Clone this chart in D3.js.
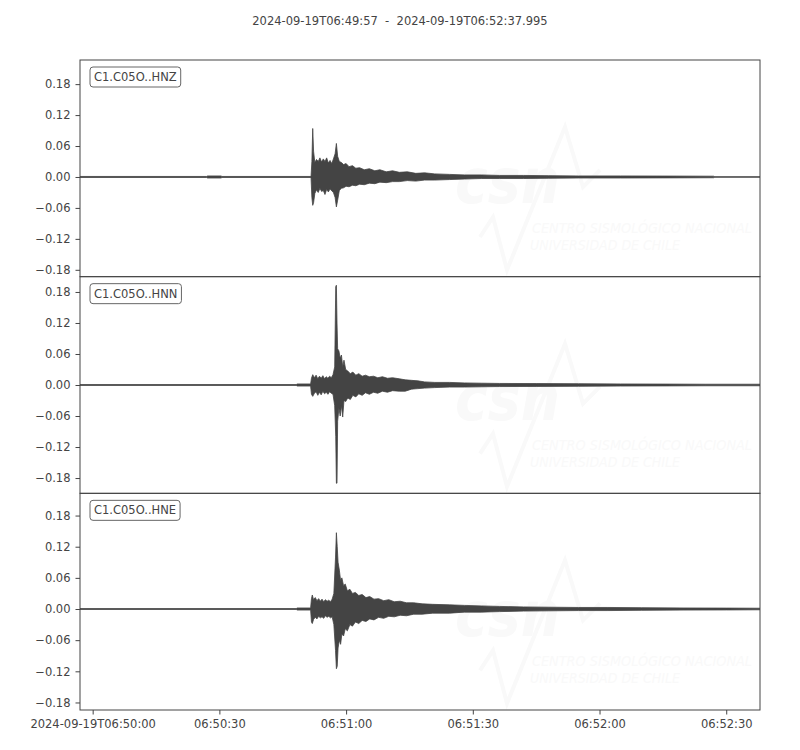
<!DOCTYPE html>
<html>
<head>
<meta charset="utf-8">
<script src="https://cdn.jsdelivr.net/npm/d3@7"></script>
<style>
  body { margin: 0; background: #fff; }
  svg text { font-family: "DejaVu Sans", sans-serif; }
</style>
</head>
<body>
<div id="chart"></div>
<script>
// time window of the stream
const startTime = "2024-09-19T06:49:57.000Z";
const endTime = "2024-09-19T06:52:37.995Z";
const titleText = "2024-09-19T06:49:57  -  2024-09-19T06:52:37.995";

// channel ids, one per panel
const channels = ["C1.C05O..HNZ", "C1.C05O..HNN", "C1.C05O..HNE"];

// y limits per panel
const yLimits = [[-0.1933, 0.2268], [-0.2096, 0.2096], [-0.1945, 0.2228]];
const yTicks = [-0.18, -0.12, -0.06, 0, 0.06, 0.12, 0.18];

// x ticks
const xTickTimes = ["2024-09-19T06:50:00Z", "2024-09-19T06:50:30Z", "2024-09-19T06:51:00Z",
                    "2024-09-19T06:51:30Z", "2024-09-19T06:52:00Z", "2024-09-19T06:52:30Z"];
const xTickLabels = ["2024-09-19T06:50:00", "06:50:30", "06:51:00", "06:51:30", "06:52:00", "06:52:30"];

// envelope of each trace: seconds after 06:50:00, max and min amplitude
const tZ = [-3, 27.0, 27.2, 30.4, 30.6, 51.7, 51.9, 52.1, 52.3, 52.6, 53.0, 53.4, 53.8, 54.2, 54.6, 55.0, 55.4, 55.8,
            56.2, 56.6, 57.0, 57.4, 57.7, 58.0, 58.4, 58.9, 59.4, 60.0, 60.7, 61.5, 62.3, 63.2, 64.3, 65.5, 66.8, 68.0,
            69.5, 71.0, 72.6, 74.5, 76.5, 78.6, 81.0, 84.5, 88.0, 92.0, 96.3, 102, 108, 115, 125, 135, 147, 147.3, 158];
const maxZ = [0.001, 0.001, 0.002, 0.002, 0.001, 0.001, 0.030, 0.094, 0.050, 0.028, 0.034, 0.030, 0.037, 0.029, 0.035,
              0.030, 0.037, 0.027, 0.032, 0.026, 0.035, 0.045, 0.065, 0.040, 0.030, 0.028, 0.024, 0.026, 0.020, 0.022,
              0.017, 0.018, 0.014, 0.016, 0.012, 0.014, 0.010, 0.012, 0.009, 0.010, 0.007, 0.008, 0.006, 0.005, 0.004,
              0.004, 0.003, 0.003, 0.0025, 0.002, 0.002, 0.0018, 0.0015, 0.0006, 0.0006];
const minZ = [-0.001, -0.001, -0.002, -0.002, -0.001, -0.001, -0.040, -0.055, -0.050, -0.032, -0.025, -0.030, -0.022,
              -0.028, -0.026, -0.034, -0.024, -0.029, -0.023, -0.027, -0.030, -0.040, -0.058, -0.045, -0.026, -0.022,
              -0.021, -0.018, -0.019, -0.016, -0.017, -0.014, -0.015, -0.012, -0.013, -0.010, -0.011, -0.009, -0.009,
              -0.007, -0.008, -0.006, -0.006, -0.005, -0.004, -0.003, -0.003, -0.003, -0.0025, -0.002, -0.002,
              -0.0018, -0.0015, -0.0006, -0.0006];

const tN = [-3, 48.2, 48.4, 51.6, 51.8, 52.1, 52.5, 52.9, 53.3, 53.7, 54.1, 54.5, 54.9, 55.3, 55.7, 56.1, 56.5, 56.9,
            57.3, 57.55, 57.7, 57.85, 58.0, 58.3, 58.6, 58.9, 59.2, 59.5, 59.9, 60.4, 61.0, 61.6, 62.3, 63.0, 63.8,
            64.6, 65.5, 66.5, 67.5, 68.6, 69.8, 71.0, 72.6, 74.0, 75.5, 77.0, 78.6, 81.0, 84.5, 88, 92, 96.3, 105,
            115, 125, 135, 145, 158];
const maxN = [0.0008, 0.0008, 0.002, 0.002, 0.013, 0.020, 0.014, 0.019, 0.012, 0.017, 0.013, 0.018, 0.012, 0.016,
              0.013, 0.017, 0.014, 0.020, 0.035, 0.190, 0.193, 0.120, 0.070, 0.066, 0.052, 0.058, 0.035, 0.048,
              0.030, 0.027, 0.022, 0.025, 0.019, 0.022, 0.017, 0.019, 0.016, 0.017, 0.014, 0.016, 0.013, 0.014,
              0.012, 0.010, 0.009, 0.008, 0.006, 0.005, 0.005, 0.004, 0.0035, 0.003, 0.0028, 0.0025, 0.002,
              0.0018, 0.0015, 0.0015];
const minN = [-0.0008, -0.0008, -0.002, -0.002, -0.018, -0.022, -0.016, -0.013, -0.020, -0.014, -0.019, -0.012,
              -0.017, -0.014, -0.018, -0.013, -0.016, -0.018, -0.040, -0.100, -0.190, -0.190, -0.070, -0.045,
              -0.060, -0.040, -0.062, -0.030, -0.032, -0.025, -0.028, -0.020, -0.023, -0.017, -0.020, -0.015,
              -0.018, -0.014, -0.016, -0.012, -0.014, -0.011, -0.012, -0.012, -0.008, -0.007, -0.006, -0.005,
              -0.004, -0.004, -0.0035, -0.003, -0.0028, -0.0025, -0.002, -0.0018, -0.0015, -0.0015];

const tE = [-3, 48.2, 48.4, 51.6, 51.8, 52.0, 52.3, 52.7, 53.1, 53.5, 53.9, 54.3, 54.7, 55.1, 55.5, 55.9, 56.3, 56.7,
            57.1, 57.5, 57.7, 57.9, 58.1, 58.4, 58.7, 59.0, 59.4, 59.8, 60.3, 60.9, 61.5, 62.2, 63.0, 63.8, 64.7,
            65.6, 66.6, 67.7, 68.9, 70.1, 71.4, 72.8, 74.3, 76.0, 78.0, 80.5, 84.5, 88.0, 92.0, 96.3, 102, 108,
            115, 122, 130, 140, 150, 158];
const maxE = [0.0008, 0.0008, 0.002, 0.002, 0.020, 0.027, 0.018, 0.022, 0.016, 0.020, 0.015, 0.019, 0.014, 0.018,
              0.015, 0.017, 0.014, 0.019, 0.030, 0.100, 0.147, 0.120, 0.090, 0.075, 0.055, 0.060, 0.045, 0.048,
              0.035, 0.038, 0.030, 0.032, 0.026, 0.028, 0.022, 0.024, 0.019, 0.020, 0.016, 0.018, 0.014, 0.015,
              0.012, 0.012, 0.010, 0.009, 0.008, 0.007, 0.006, 0.005, 0.004, 0.0035, 0.003, 0.003, 0.0025, 0.002,
              0.0018, 0.0015];
const minE = [-0.0008, -0.0008, -0.002, -0.002, -0.025, -0.028, -0.020, -0.016, -0.019, -0.014, -0.017, -0.015,
              -0.018, -0.013, -0.016, -0.014, -0.017, -0.015, -0.030, -0.080, -0.115, -0.110, -0.075, -0.060,
              -0.068, -0.048, -0.052, -0.038, -0.042, -0.030, -0.033, -0.025, -0.028, -0.022, -0.024, -0.019,
              -0.021, -0.016, -0.018, -0.014, -0.015, -0.012, -0.013, -0.010, -0.010, -0.008, -0.008, -0.006,
              -0.006, -0.005, -0.004, -0.0035, -0.003, -0.003, -0.0025, -0.002, -0.0018, -0.0015];

const traces = [[tZ, maxZ, minZ], [tN, maxN, minN], [tE, maxE, minE]];

const W = 800, H = 750;
const margin = { top: 60, right: 40, bottom: 40, left: 80 };
const plotW = W - margin.left - margin.right;
const panelH = (H - margin.top - margin.bottom) / channels.length;
const ink = "#444";
const faint = "#f9f9f9";
const t0 = Date.parse("2024-09-19T06:50:00Z");

const svg = d3.select("#chart").append("svg")
    .attr("width", W)
    .attr("height", H);

svg.append("text")
    .attr("x", W / 2)
    .attr("y", 25)
    .attr("text-anchor", "middle")
    .attr("font-size", 11.5)
    .attr("fill", ink)
    .style("white-space", "pre")
    .text(titleText);

const x = d3.scaleUtc()
    .domain([new Date(startTime), new Date(endTime)])
    .range([0, plotW]);

channels.forEach((ch, i) => {
  const g = svg.append("g")
      .attr("transform", `translate(${margin.left},${margin.top + i * panelH})`);

  const y = d3.scaleLinear()
      .domain(yLimits[i])
      .range([panelH, 0]);

  // faint watermark
  const wm = g.append("g").attr("fill", faint).attr("stroke", "none");
  wm.append("path")
      .attr("d", "M400,177L413,157L427,210L485,67L503,127L520,110")
      .attr("fill", "none")
      .attr("stroke", faint)
      .attr("stroke-width", 4);
  wm.append("text")
      .attr("x", 375).attr("y", 143)
      .attr("font-size", 62).attr("font-weight", "bold").attr("font-style", "italic")
      .attr("textLength", 105).attr("lengthAdjust", "spacingAndGlyphs")
      .text("csn");
  wm.append("text")
      .attr("x", 452).attr("y", 173)
      .attr("font-size", 14).attr("font-style", "italic")
      .attr("textLength", 220).attr("lengthAdjust", "spacingAndGlyphs")
      .text("CENTRO SISMOLÓGICO NACIONAL");
  wm.append("text")
      .attr("x", 450).attr("y", 190)
      .attr("font-size", 14).attr("font-style", "italic")
      .attr("textLength", 150).attr("lengthAdjust", "spacingAndGlyphs")
      .text("UNIVERSIDAD DE CHILE");

  // waveform envelope
  const [ts, hi, lo] = traces[i];
  const rows = ts.map((t, k) => ({ t: new Date(t0 + t * 1000), hi: hi[k], lo: lo[k] }));
  const area = d3.area()
      .x(d => x(d.t))
      .y0(d => y(d.lo))
      .y1(d => y(d.hi));

  g.append("clipPath").attr("id", "clip" + i)
    .append("rect").attr("width", plotW).attr("height", panelH);

  g.append("path")
      .datum(rows)
      .attr("clip-path", `url(#clip${i})`)
      .attr("d", area)
      .attr("fill", ink)
      .attr("stroke", ink)
      .attr("stroke-width", 0.8)
      .attr("stroke-linejoin", "round");

  // y axis
  const ya = g.append("g")
      .call(d3.axisLeft(y).tickValues(yTicks).tickFormat(d3.format(".2f")).tickSize(4.5).tickPadding(5));
  ya.select(".domain").remove();
  ya.selectAll("line").attr("stroke", ink);
  ya.selectAll("text").attr("font-size", 11.5).attr("fill", ink).attr("font-family", "DejaVu Sans");

  // x axis only under the last panel
  if (i === channels.length - 1) {
    const xa = g.append("g")
        .attr("transform", `translate(0,${panelH})`)
        .call(d3.axisBottom(x)
          .tickValues(xTickTimes.map(s => new Date(s)))
          .tickFormat((d, k) => xTickLabels[k])
          .tickSize(4.5).tickPadding(5));
    xa.select(".domain").remove();
    xa.selectAll("line").attr("stroke", ink);
    xa.selectAll("text").attr("font-size", 11.5).attr("fill", ink).attr("font-family", "DejaVu Sans");
  }

  // frame
  g.append("rect")
      .attr("width", plotW)
      .attr("height", panelH)
      .attr("fill", "none")
      .attr("stroke", ink)
      .attr("stroke-width", 1);

  // channel label
  const lbl = g.append("g").attr("transform", "translate(10,7)");
  const txt = lbl.append("text")
      .attr("x", 4).attr("y", 14)
      .attr("font-size", 11.5)
      .attr("fill", ink)
      .text(ch);
  const bw = txt.node().getComputedTextLength();
  lbl.insert("rect", "text")
      .attr("width", bw + 8)
      .attr("height", 20)
      .attr("rx", 3)
      .attr("fill", "#fff")
      .attr("stroke", "#666")
      .attr("stroke-width", 1);
});
</script>
</body>
</html>
